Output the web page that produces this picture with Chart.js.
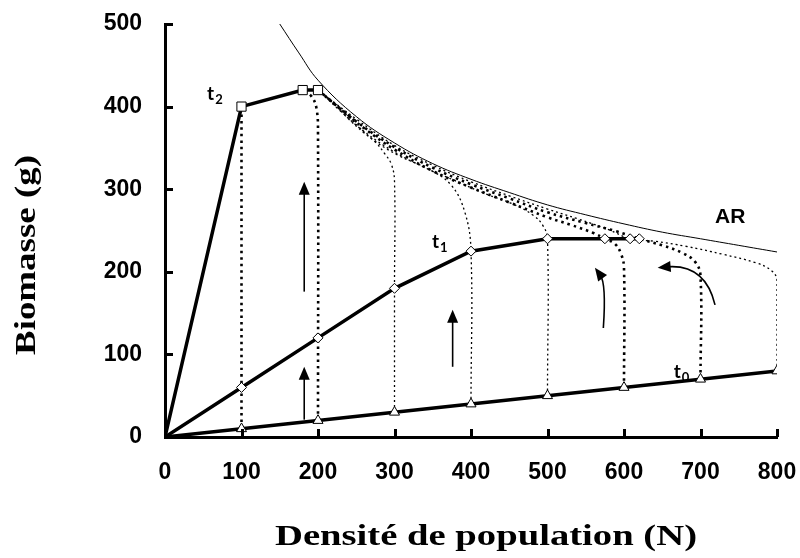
<!DOCTYPE html>
<html>
<head>
<meta charset="utf-8">
<script src="https://cdn.jsdelivr.net/npm/chart.js@4"></script>
<style>
  html, body { margin: 0; padding: 0; background: #fff; }
  canvas { display: block; }
</style>
</head>
<body>
<canvas id="mainChart" width="800" height="558"></canvas>
<script>
// axis ticks
const xTicks = [0, 100, 200, 300, 400, 500, 600, 700, 800];
const yTicks = [0, 100, 200, 300, 400, 500];

// main series (t0, t1, t2)
const t0X = [0, 100, 200, 300, 400, 500, 600, 700, 800];
const t0Y = [0, 10, 20, 30, 40, 50, 60, 70, 80];
const t1X = [0, 100, 200, 300, 400, 500, 575, 608, 620];
const t1Y = [0, 60, 120, 180, 225, 240, 240, 240, 240];
const t2X = [0, 100, 180, 200];
const t2Y = [0, 400, 420, 420];

// AR limit curve
const arX = [150, 175, 200, 250, 300, 350, 400, 450, 500, 550, 600, 650, 700, 750, 800];
const arY = [500, 465, 432, 388, 356, 331, 312, 296, 281, 269, 258, 248, 240, 232, 224];

// dotted trajectories, one per starting density
const traj100 = [[100, 10], [100, 400]];
const traj200 = [[200, 20], [200, 365], [198, 398], [191, 413], [180, 420]];
const traj300 = [[300, 30], [300, 180], [300, 310], [296, 330], [288, 342], [275, 357], [259, 369], [240, 385], [220, 404], [200, 420]];
const traj400 = [[400, 40], [400, 225], [392, 272], [374, 305], [345, 324], [305, 341], [272, 360], [245, 383], [220, 405], [200, 420]];
const traj500 = [[500, 50], [500, 240], [494, 256], [482, 268], [455, 282], [420, 294], [380, 310], [340, 326], [300, 345], [260, 370], [230, 394], [200, 420]];
const traj600 = [[600, 60], [600, 205], [596, 222], [588, 234], [575, 240], [560, 247], [530, 257], [500, 266], [450, 284], [400, 302], [350, 322], [300, 348], [260, 374], [230, 397], [200, 420]];
const traj700 = [[700, 70], [700, 195], [693, 212], [676, 223], [650, 232], [620, 240], [590, 249], [550, 259], [500, 272], [450, 289], [400, 306], [350, 326], [300, 351], [250, 382], [200, 420]];
const traj800 = [[800, 80], [800, 190], [792, 202], [772, 211], [730, 221], [680, 231], [640, 237], [608, 240], [580, 251], [540, 264], [500, 276], [450, 292], [400, 309], [350, 329], [300, 353], [250, 385], [200, 420]];
const thickTraj = [traj100, traj200, traj600, traj700];
const thinTraj = [traj300, traj400, traj500, traj800];

// annotation arrows (data units)
const straightArrows = [[182, 176, 309], [182, 21, 85], [376, 85, 154]]; // x, yFrom, yTo
const curvedArrows = [
  [[573, 132], [577, 186], [562, 205]],
  [[719, 160], [706, 210], [644, 205]]
];

// curve labels: text, subscript, x, y
const curveLabels = [["t", "2", 55, 408], ["t", "1", 349, 229], ["t", "0", 665, 71], ["AR", "", 719, 259]];

const pts = (xs, ys) => xs.map((x, i) => ({ x: x, y: ys[i] }));
const pairs = arr => arr.map(p => ({ x: p[0], y: p[1] }));
const radiusNoOrigin = (n, r) => Array.from({ length: n }, (_, i) => i === 0 ? 0 : r);

function seriesSet(xs, ys, style, r) {
  return {
    data: pts(xs, ys),
    borderColor: "#000",
    borderWidth: 3.5,
    pointStyle: style,
    pointRadius: radiusNoOrigin(xs.length, r),
    pointBackgroundColor: "#fff",
    pointBorderColor: "#000",
    pointBorderWidth: 1,
    tension: 0
  };
}

function trajSet(arr, thick) {
  return {
    data: pairs(arr),
    borderColor: "#000",
    borderWidth: thick ? 2.6 : 1.3,
    borderDash: thick ? [2.5, 4] : [2, 3],
    pointRadius: 0,
    tension: 0.4
  };
}

const datasets = [
  seriesSet(t2X, t2Y, "rect", 6.5),
  seriesSet(t1X, t1Y, "rectRot", 5),
  seriesSet(t0X, t0Y, "triangle", 5.8),
  { data: pts(arX, arY), borderColor: "#000", borderWidth: 1, pointRadius: 0, tension: 0.4 }
];
thickTraj.forEach(t => datasets.push(trajSet(t, true)));
thinTraj.forEach(t => datasets.push(trajSet(t, false)));

function arrowHead(ctx, x, y, ang) {
  const len = 13, half = 5.5;
  ctx.beginPath();
  ctx.moveTo(x, y);
  ctx.lineTo(x - len * Math.cos(ang) + half * Math.sin(ang), y - len * Math.sin(ang) - half * Math.cos(ang));
  ctx.lineTo(x - len * Math.cos(ang) - half * Math.sin(ang), y - len * Math.sin(ang) + half * Math.cos(ang));
  ctx.closePath();
  ctx.fill();
}

function stretchedText(ctx, text, x, y, rot, width) {
  ctx.save();
  ctx.translate(x, y);
  ctx.rotate(rot);
  const w = ctx.measureText(text).width;
  ctx.scale(width / w, 1);
  ctx.textAlign = "center";
  ctx.textBaseline = "alphabetic";
  ctx.fillText(text, 0, 0);
  ctx.restore();
}

function noScalePadding(s) {
  s.paddingTop = 0;
  s.paddingBottom = 0;
  s.paddingLeft = 0;
  s.paddingRight = 0;
}

const decor = {
  id: "decor",
  afterDatasetsDraw(chart) {
    const ctx = chart.ctx, xs = chart.scales.x, ys = chart.scales.y;
    ctx.save();
    ctx.strokeStyle = "#000";
    ctx.fillStyle = "#000";
    ctx.lineWidth = 1.6;
    // straight arrows
    straightArrows.forEach(a => {
      const px = xs.getPixelForValue(a[0]);
      const y0 = ys.getPixelForValue(a[1]), y1 = ys.getPixelForValue(a[2]);
      ctx.beginPath();
      ctx.moveTo(px, y0);
      ctx.lineTo(px, y1 + 10);
      ctx.stroke();
      arrowHead(ctx, px, y1, -Math.PI / 2);
    });
    // curved arrows
    curvedArrows.forEach(a => {
      const p0 = [xs.getPixelForValue(a[0][0]), ys.getPixelForValue(a[0][1])];
      const c = [xs.getPixelForValue(a[1][0]), ys.getPixelForValue(a[1][1])];
      const p1 = [xs.getPixelForValue(a[2][0]), ys.getPixelForValue(a[2][1])];
      const ang = Math.atan2(p1[1] - c[1], p1[0] - c[0]);
      ctx.beginPath();
      ctx.moveTo(p0[0], p0[1]);
      ctx.quadraticCurveTo(c[0], c[1], p1[0] - 9 * Math.cos(ang), p1[1] - 9 * Math.sin(ang));
      ctx.stroke();
      arrowHead(ctx, p1[0], p1[1], ang);
    });
    // curve labels
    curveLabels.forEach(l => {
      const px = xs.getPixelForValue(l[2]), py = ys.getPixelForValue(l[3]);
      ctx.textAlign = "left";
      ctx.textBaseline = "alphabetic";
      ctx.font = l[1] ? "bold 19px Lato" : "bold 21px 'Liberation Sans'";
      ctx.fillText(l[0], px, py);
      if (l[1]) {
        const w = ctx.measureText(l[0]).width;
        ctx.font = "bold 13px Lato";
        ctx.fillText(l[1], px + w + 1, py + 4);
      }
    });
    ctx.restore();
  },
  afterDraw(chart) {
    const ctx = chart.ctx, xs = chart.scales.x, ys = chart.scales.y, area = chart.chartArea;
    ctx.save();
    ctx.strokeStyle = "#000";
    ctx.lineWidth = 3;
    // inward tick marks
    yTicks.slice(1).forEach(v => {
      const py = Math.round(ys.getPixelForValue(v)) + 0.5;
      ctx.beginPath();
      ctx.moveTo(area.left, py);
      ctx.lineTo(area.left + 8, py);
      ctx.stroke();
    });
    xTicks.slice(1).forEach(v => {
      const px = Math.round(xs.getPixelForValue(v)) + 0.5;
      ctx.beginPath();
      ctx.moveTo(px, area.bottom);
      ctx.lineTo(px, area.bottom - 8);
      ctx.stroke();
    });
    // axis titles
    ctx.fillStyle = "#000";
    ctx.font = "bold 30px 'Liberation Serif'";
    stretchedText(ctx, "Densité de population (N)", 486, 545, 0, 422);
    stretchedText(ctx, "Biomasse (g)", 35, 255, -Math.PI / 2, 200);
    ctx.restore();
  }
};

const ctx = document.getElementById("mainChart").getContext("2d");
const mainChart = new Chart(ctx, {
  type: "line",
  data: { datasets: datasets },
  options: {
    responsive: false,
    animation: false,
    devicePixelRatio: 1,
    layout: { padding: { left: 0, right: 23, top: 24, bottom: 0 } },
    plugins: { legend: { display: false }, tooltip: { enabled: false } },
    scales: {
      x: {
        type: "linear",
        min: 0,
        max: 800,
        afterBuildTicks: s => { s.ticks = xTicks.map(v => ({ value: v })); },
        afterFit: s => { s.height = 121; noScalePadding(s); },
        grid: { display: false, drawTicks: false },
        border: { display: true, color: "#000", width: 3 },
        ticks: { padding: 22, color: "#000", font: { family: "'Liberation Sans'", size: 23, weight: "bold" } }
      },
      y: {
        type: "linear",
        min: 0,
        max: 500,
        afterBuildTicks: s => { s.ticks = yTicks.map(v => ({ value: v })); },
        afterFit: s => { s.width = 165; noScalePadding(s); },
        grid: { display: false, drawTicks: false },
        border: { display: true, color: "#000", width: 3 },
        ticks: { padding: 23, color: "#000", font: { family: "'Liberation Sans'", size: 23, weight: "bold" } }
      }
    }
  },
  plugins: [decor]
});
</script>
</body>
</html>
